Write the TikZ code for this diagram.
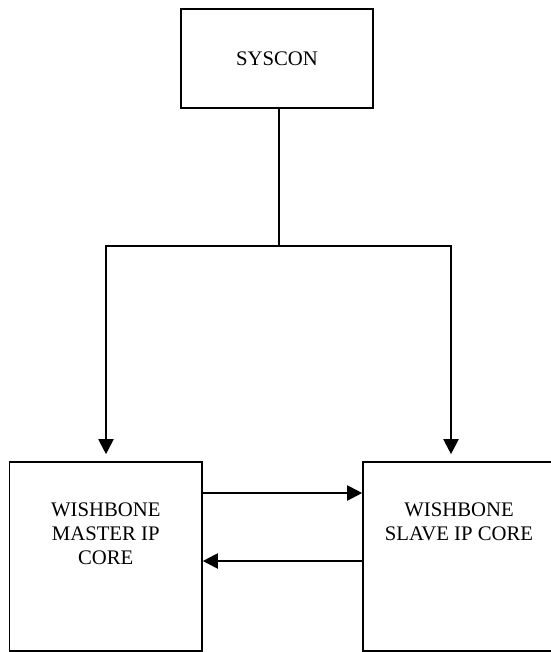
\documentclass[tikz,border=0pt]{standalone}
\usepackage{fontspec}
\setmainfont{Liberation Serif}
\usetikzlibrary{arrows.meta}
\begin{document}
\begin{tikzpicture}[x=1bp,y=-1bp,
  box/.style={draw, line width=1.6bp, inner sep=0},
  txt/.style={font=\fontsize{20.8}{24}\selectfont, align=center, inner sep=0},
  conn/.style={line width=2bp},
  arr/.style={conn, -{Triangle[length=15bp,width=15bp]}}]
\useasboundingbox (0,0) rectangle (551,652);
% boxes
\node[box, txt, minimum width=192bp, minimum height=99bp] (sys) at (277,58.5) {SYSCON};
\node[box, minimum width=192.5bp, minimum height=189bp] (master) at (105.75,556.5) {};
\node[box, minimum width=192bp, minimum height=189bp] (slave) at (459,556.5) {};
\node[txt, anchor=north] (mastert) at (105.75,503) {WISHBONE\\MASTER IP\\CORE};
\node[txt, anchor=north] (slavet) at (459,503) {WISHBONE\\SLAVE IP CORE};
% connectors
\coordinate (join) at (279,246);
\coordinate (jl) at (106,246);
\coordinate (jr) at (451,246);
\draw[conn] (sys.south -| join) -- (join);
\draw[conn, line cap=rect] (jl) -- (jr);
\draw[arr, shorten >=7bp] (jl) -- (jl |- master.north);
\draw[arr, shorten >=7bp] (jr) -- (jr |- slave.north);
\draw[arr] ([yshift=63.5bp]master.east) -- ([yshift=63.5bp]master.east -| slave.west);
\draw[arr] ([yshift=-4.5bp]slave.west) -- ([yshift=-4.5bp]slave.west -| master.east);
\end{tikzpicture}
\end{document}
